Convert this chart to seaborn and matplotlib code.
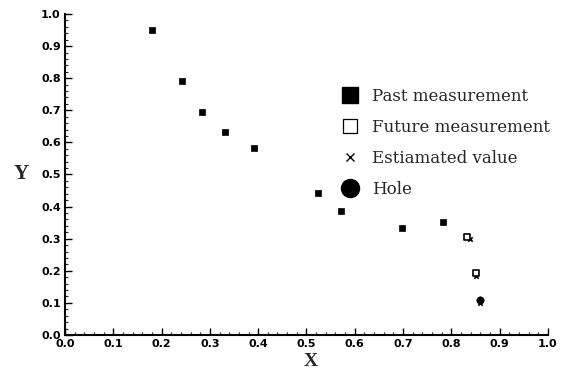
import matplotlib
matplotlib.use("Agg")
import matplotlib.pyplot as plt
from matplotlib.lines import Line2D
from matplotlib.ticker import MultipleLocator, FormatStrFormatter
import seaborn as sns
import pandas as pd

# Data
past_x = [0.181, 0.243, 0.284, 0.331, 0.391, 0.523, 0.571, 0.698, 0.783]
past_y = [0.950, 0.792, 0.696, 0.631, 0.582, 0.441, 0.386, 0.334, 0.353]
future_x = [0.833, 0.852]
future_y = [0.306, 0.192]
est_x = [0.839, 0.851, 0.859]
est_y = [0.299, 0.184, 0.100]
hole_x = [0.859]
hole_y = [0.109]

legend_labels = ["Past measurement", "Future measurement", "Estiamated value", "Hole"]

sns.set_style("ticks")
plt.rcParams['font.family'] = ['DejaVu Sans']

fig = plt.figure(figsize=(5.64, 3.71), dpi=100)
ax = fig.add_axes([0.1152, 0.0970, 0.8564, 0.8653])

past = pd.DataFrame({"x": past_x, "y": past_y})
future = pd.DataFrame({"x": future_x, "y": future_y})
est = pd.DataFrame({"x": est_x, "y": est_y})
hole = pd.DataFrame({"x": hole_x, "y": hole_y})

sns.scatterplot(data=past, x="x", y="y", marker="s", s=20, color="black",
                edgecolor="black", linewidth=0.5, ax=ax, legend=False)
sns.scatterplot(data=hole, x="x", y="y", marker="o", s=28, color="black",
                edgecolor="black", linewidth=0.5, ax=ax, legend=False)
sns.scatterplot(data=est, x="x", y="y", marker="x", s=10, color="black",
                linewidth=1.2, ax=ax, legend=False)
sns.scatterplot(data=future, x="x", y="y", marker="s", s=20, facecolor="white",
                edgecolor="black", linewidth=1.2, ax=ax, legend=False)

ax.set_xlim(0, 1.0)
ax.set_ylim(0, 1.0)
ax.xaxis.set_major_locator(MultipleLocator(0.1))
ax.yaxis.set_major_locator(MultipleLocator(0.1))
ax.xaxis.set_minor_locator(MultipleLocator(0.02))
ax.yaxis.set_minor_locator(MultipleLocator(0.02))
ax.tick_params(which="major", direction="in", length=5, width=1.0,
               labelsize=8, pad=3, colors="black")
ax.tick_params(which="minor", direction="in", length=2.5, width=0.8)
for lab in ax.get_xticklabels() + ax.get_yticklabels():
    lab.set_fontweight("bold")
ax.xaxis.set_major_formatter(FormatStrFormatter("%.1f"))
ax.yaxis.set_major_formatter(FormatStrFormatter("%.1f"))

sns.despine(ax=ax)
for sp in ["left", "bottom"]:
    ax.spines[sp].set_linewidth(1.5)
    ax.spines[sp].set_color("black")

ax.set_xlabel("X", family="Liberation Serif", fontsize=14, fontweight="bold")
ax.xaxis.set_label_coords(0.508, -0.055)
ax.xaxis.label.set_va("top")
ax.set_ylabel("Y", family="Liberation Serif", fontsize=15, fontweight="bold",
              rotation=0, va="center")
ax.yaxis.set_label_coords(-0.09, 0.5)

handles = [
    Line2D([], [], marker="s", linestyle="none", color="black", markersize=11),
    Line2D([], [], marker="s", linestyle="none", markerfacecolor="white",
           markeredgecolor="black", markersize=10, markeredgewidth=0.9),
    Line2D([], [], marker="x", linestyle="none", color="black", markersize=6,
           markeredgewidth=1.0),
    Line2D([], [], marker="o", linestyle="none", color="black", markersize=13),
]
leg = ax.legend(handles, legend_labels, loc="upper left", bbox_to_anchor=(0.564, 0.77),
                frameon=False, prop={"family": "DejaVu Serif", "size": 12},
                handletextpad=0.55, labelspacing=0.85, handlelength=1.5, borderaxespad=0,
                borderpad=0)

fig.savefig("out.png", dpi=100)
